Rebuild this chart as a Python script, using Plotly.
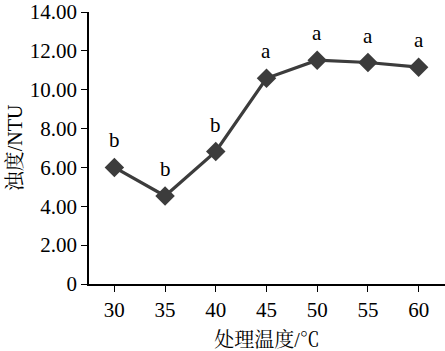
import plotly.graph_objects as go

temps = [30, 35, 40, 45, 50, 55, 60]
turbidity = [6.00, 4.53, 6.82, 10.59, 11.52, 11.40, 11.16]
errors = [0.20, 0.18, 0.22, 0.18, 0.20, 0.25, 0.20]
letters = ["b", "b", "b", "a", "a", "a", "a"]
ytick_vals = [0, 2, 4, 6, 8, 10, 12, 14]
ytick_text = ["0", "2.00", "4.00", "6.00", "8.00", "10.00", "12.00", "14.00"]

serif = "Liberation Serif, Times New Roman, Noto Serif CJK SC, Noto Sans CJK SC, serif"
dark = "#3c3c3c"

fig = go.Figure()
fig.add_trace(go.Scatter(
    x=temps, y=turbidity, mode="lines+markers",
    line=dict(color=dark, width=3.2),
    marker=dict(symbol="diamond", size=15, color=dark),
    error_y=dict(type="data", array=errors, color=dark, thickness=1.5, width=3),
    showlegend=False,
))
for t, v, l in zip(temps, turbidity, letters):
    fig.add_annotation(x=t, y=v, text=l, showarrow=False, yshift=27,
                       font=dict(family=serif, size=21, color="black"))

fig.update_layout(
    width=445, height=351,
    margin=dict(l=89, r=0, t=12, b=67),
    paper_bgcolor="white", plot_bgcolor="white",
    font=dict(family=serif, size=21, color="black"),
    xaxis=dict(range=[27.5, 62.6], tickvals=temps, ticks="outside", ticklen=6,
               tickwidth=1.2, tickcolor="black", showline=True, linecolor="black",
               linewidth=1.5, showgrid=False, zeroline=False, automargin=False,
               ticklabeloverflow="allow",
               title=dict(text="处理温度/℃", standoff=12, font=dict(size=20))),
    yaxis=dict(range=[0, 14], tickvals=ytick_vals, ticktext=ytick_text,
               ticks="outside", ticklen=6, tickwidth=1.2, tickcolor="black",
               showline=True, linecolor="black", linewidth=1.5, automargin=False,
               showgrid=False, zeroline=False, ticklabeloverflow="allow",
               title=dict(text="浊度/NTU", standoff=2, font=dict(size=20))),
)
fig.write_html("out.html")
